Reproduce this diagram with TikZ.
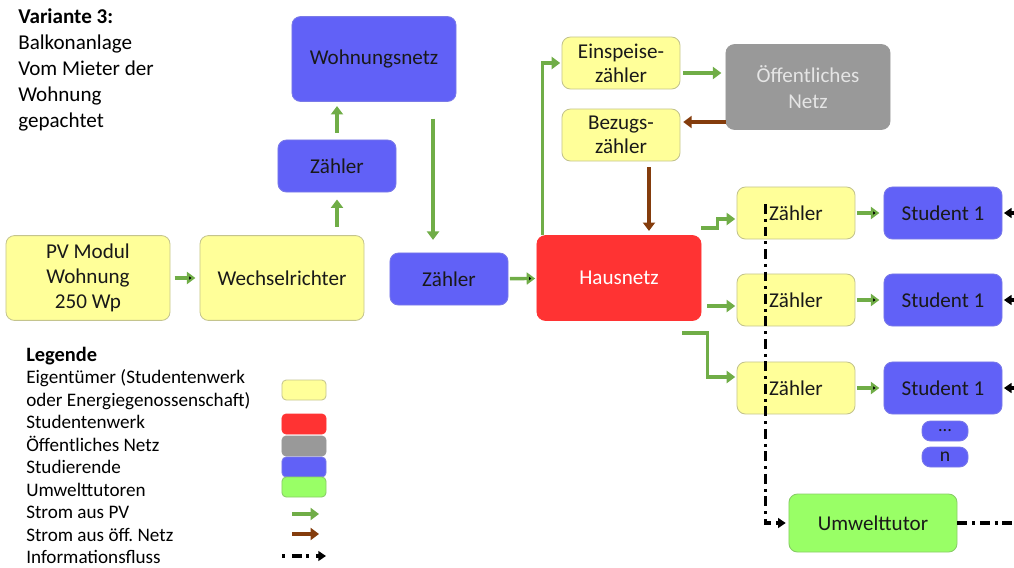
\documentclass[tikz,border=0pt]{standalone}
\usepackage{fontspec}
\setmainfont{Carlito}
\usetikzlibrary{arrows.meta,positioning}

\definecolor{eigenfill}{HTML}{FFFF99}
\definecolor{eigendraw}{HTML}{C4C48E}
\definecolor{werkfill}{HTML}{FF3333}
\definecolor{netzfill}{HTML}{999999}
\definecolor{studfill}{HTML}{6161F7}
\definecolor{studdraw}{HTML}{7A7AE8}
\definecolor{tutorfill}{HTML}{99FF66}
\definecolor{tutordraw}{HTML}{88CC66}
\definecolor{pvgreen}{HTML}{70AD47}
\definecolor{netzbrown}{HTML}{843C0C}

\begin{document}
\begin{tikzpicture}[x=0.025cm,y=-0.025cm,
    font=\fontsize{15}{18}\selectfont,
    box/.style={rounded corners=6pt, line width=0.6pt, align=center,
        inner sep=1pt, text=black!90},
    big/.style={box, minimum width=4.1cm, minimum height=2.12cm},
    small/.style={box, minimum width=2.95cm, minimum height=1.3cm},
    eigen/.style={fill=eigenfill, draw=eigendraw},
    werk/.style={fill=werkfill, draw=werkfill, text=white},
    netz/.style={fill=netzfill, draw=netzfill, text=white!90!black},
    stud/.style={fill=studfill, draw=studdraw},
    tutor/.style={fill=tutorfill, draw=tutordraw},
    pvflow/.style={draw=pvgreen, line width=2.4pt,
        -{Triangle[length=6pt,width=8.5pt]}},
    gridflow/.style={draw=netzbrown, line width=2.4pt,
        -{Triangle[length=6pt,width=8.5pt]}},
    info/.style={draw=black, line width=2.4pt,
        dash pattern=on 7pt off 3.5pt on 2pt off 3.5pt,
        -{Triangle[length=5.5pt,width=7pt]}},
    legtext/.style={anchor=base west, inner sep=0pt,
        font=\fontsize{13.6}{15}\selectfont},
    swatch/.style={rounded corners=3pt, line width=0.6pt,
        minimum width=1.1cm, minimum height=0.5cm, inner sep=0pt}]

\useasboundingbox (0,0) rectangle (1014,567);

% title
\node[anchor=north west, align=left, inner sep=0pt,
      font=\fontsize{15}{18.6}\selectfont] (title) at (18,8)
    {\textbf{Variante 3:}\\Balkonanlage\\Vom Mieter der\\Wohnung\\gepachtet};

% left branch
\node[big,eigen]  (pv)    at (88,278)  {PV Modul\\Wohnung\\250 Wp};
\node[big,eigen]  (wr)    at (282,278) {Wechselrichter};
\node[small,stud] (zw)    at (337,166) {Zähler};
\node[big,stud]   (wnetz) at (374,59)  {Wohnungsnetz};
\node[small,stud] (zm)    at (449,279) {Zähler};
\node[big,werk]   (haus)  at (619,278) {Hausnetz};

% public grid
\node[small,eigen,font=\fontsize{15}{17}\selectfont] (einsp) at (621,63)  {Einspeise-\\zähler};
\node[small,eigen,font=\fontsize{15}{17}\selectfont] (bezug) at (621,135) {Bezugs-\\zähler};
\node[big,netz,font=\fontsize{15}{19}\selectfont]    (oeff)  at (808,87)  {Öffentliches\\Netz};

% students
\node[small,eigen] (z1) at (796,213) {Zähler};
\node[small,eigen] (z2) at (796,300) {Zähler};
\node[small,eigen] (z3) at (796,388) {Zähler};
\node[small,stud]  (s1) at (943,213) {Student 1};
\node[small,stud]  (s2) at (943,300) {Student 1};
\node[small,stud]  (s3) at (943,388) {Student 1};
\node[box,stud,minimum width=1.15cm,minimum height=0.5cm,inner sep=0pt,
      font=\fontsize{13}{14}\selectfont] (sdots) at (945,431) {...};
\node[box,stud,minimum width=1.15cm,minimum height=0.5cm,inner sep=0pt,
      font=\fontsize{14}{14}\selectfont] (sn) at (945,457) {n};
\node[box,tutor,minimum width=4.2cm,minimum height=1.45cm] (tutor) at (873,523) {Umwelttutor};

% pv flow
\path[pvflow] (pv) edge[shorten <=3pt, shorten >=3pt] (wr)
              (zm) edge[shorten <=1pt, shorten >=1pt] (haus)
              (z1) edge[shorten <=1pt, shorten >=3pt] (s1)
              (z2) edge[shorten <=1pt, shorten >=3pt] (s2)
              (z3) edge[shorten <=1pt, shorten >=3pt] (s3);
\draw[pvflow, shorten <=6pt, shorten >=5pt] (zw.south |- wr.north) -- (zw.south);
\draw[pvflow, shorten <=5pt, shorten >=3pt] (zw.north) -- (zw.north |- wnetz.south);
\draw[pvflow, shorten <=12pt, shorten >=9pt] ([xshift=1.475cm]wnetz.south)
    -- ([xshift=1.475cm]wnetz.south |- zm.north);
\draw[pvflow, shorten >=1pt] ([xshift=0.15cm]haus.north west) |- (einsp.west);
\draw[pvflow, shorten <=2pt, shorten >=3pt] ([yshift=-0.25cm]einsp.east)
    -- ([yshift=-0.25cm]einsp.east -| oeff.west);
\draw[pvflow, shorten >=1pt] ([yshift=1.25cm]haus.east) -- ++(16,0)
    |- ([yshift=-0.15cm]z1.west);
\draw[pvflow, shorten <=4pt, shorten >=1pt] ([yshift=-0.15cm]z2.west -| haus.east)
    -- ([yshift=-0.15cm]z2.west);
\draw[pvflow, shorten >=1pt] ([xshift=-0.475cm,yshift=-0.3cm]haus.south east)
    -- ++(25,0) |- ([yshift=0.275cm]z3.west);

% grid flow
\draw[gridflow, shorten >=2pt] ([yshift=0.325cm]bezug.east -| oeff.west)
    -- ([yshift=0.325cm]bezug.east);
\draw[gridflow, shorten <=4pt, shorten >=3pt] ([xshift=0.7cm]bezug.south)
    -- ([xshift=0.7cm]bezug.south |- haus.north);

% information flow
\coordinate (infotop) at ([xshift=0.725cm,yshift=0.225cm]z1.west);
\coordinate (infoout) at (1014,523);
\draw[info, shorten >=2pt] (infotop) |- (tutor.west);
\draw[info, -] (tutor.east) -- (infoout);
\foreach \s in {1,2,3}
    \coordinate (inr\s) at (1016,0 |- s\s.east);
\foreach \s in {1,2,3}
    \draw[info, shorten >=1pt] (inr\s) -- (s\s.east);

% legend
\node[legtext, font=\fontsize{14.5}{15}\selectfont] (leg0) at (26,361) {\textbf{Legende}};
\foreach \txt [count=\i] in {Eigentümer (Studentenwerk, oder Energiegenossenschaft),
        Studentenwerk, Öffentliches Netz, Studierende, Umwelttutoren,
        Strom aus PV, Strom aus öff.\ Netz, Informationsfluss}
    \node[legtext] (leg\i) at (26,361+22.5*\i) {\txt};

\node[swatch,eigen] (sw1) at (304,390) {};
\node[swatch,werk]  (sw2) at (304,424) {};
\node[swatch,netz]  (sw3) at (304,446) {};
\node[swatch,stud]  (sw4) at (304,467) {};
\node[swatch,tutor] (sw5) at (304,487) {};

\coordinate (lpva) at (292,514);
\coordinate (lpvb) at (319,514);
\coordinate (lgra) at (292,534);
\coordinate (lgrb) at (319,534);
\coordinate (linfa) at (282,556);
\coordinate (linfb) at (326,556);
\draw[pvflow] (lpva) -- (lpvb);
\draw[gridflow] (lgra) -- (lgrb);
\draw[info, dash pattern=on 2pt off 5pt on 7pt off 3pt] (linfa) -- (linfb);
\end{tikzpicture}
\end{document}
